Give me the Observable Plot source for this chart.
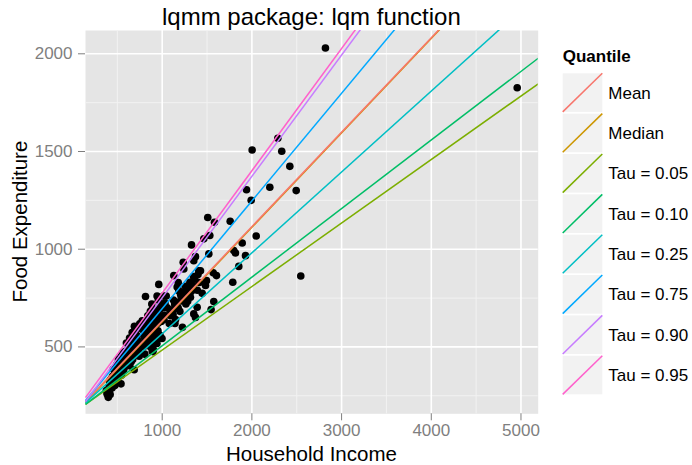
<!DOCTYPE html>
<html><head><meta charset="utf-8">
<script src="https://cdn.jsdelivr.net/npm/d3@7"></script>
<script src="https://cdn.jsdelivr.net/npm/@observablehq/plot@0.6"></script>
<style>body{margin:0;background:#fff;} #chart{width:692px;height:465px;}</style>
</head><body><div id="chart"></div>
<script>
// Household income (x) and food expenditure (y)
const income = [
377,387,387,399,408,411,415,420,420,424,434,441,447,454,461,472,473,485,488,495,498,500,
503,503,507,508,512,524,531,535,540,541,542,544,545,556,559,559,562,563,571,571,576,581,585,587,588,591,596,598,
601,609,615,617,625,627,634,636,639,639,643,651,654,665,671,672,672,679,688,690,690,692,697,697,699,702,
713,713,714,716,718,724,726,726,730,737,743,749,751,759,777,788,791,797,800,800,
806,814,816,821,829,830,831,832,836,839,839,852,855,861,868,873,874,875,880,880,884,884,887,890,890,892,894,896,
901,906,921,922,924,927,934,939,941,943,946,950,953,953,953,956,959,962,969,975,976,978,979,988,989,998,
1006,1014,1018,1020,1025,1031,1045,1057,1079,1088,1095,1116,1121,1125,1129,1139,1142,1149,1149,1162,1167,1178,1179,1185,1197,
1204,1210,1213,1226,1231,1234,1241,1245,1256,1260,1264,1279,1284,1309,1315,1315,1327,1338,1343,1348,1352,1352,1363,1371,1371,1390,1392,1399,1408,1415,1427,1446,
1464,1483,1494,1508,1520,1531,1545,1569,1575,1583,1605,1758,1787,1798,1817,1854,1892,1929,1940,1992,2003,2048,2200,2289,2333,2423,2494,2545,2820,4958
];
const foodexp = [
277,258,265,242,300,268,318,256,330,308,338,290,350,386,335,303,366,360,334,410,318,405,
338,354,318,372,436,401,372,393,418,311,452,415,355,452,378,398,437,470,385,430,395,455,423,420,478,460,444,423,
520,457,412,412,445,498,490,545,403,430,526,498,424,574,436,478,558,527,383,606,520,467,590,545,518,566,
513,497,470,560,600,485,598,532,523,475,452,618,496,595,634,586,520,551,503,560,
463,758,606,624,631,560,593,520,556,659,625,588,528,620,682,498,570,560,654,612,553,720,691,566,478,610,640,476,
486,588,687,680,640,528,519,645,518,760,634,667,621,549,583,740,645,820,690,705,560,654,700,720,630,543,
702,760,701,640,662,724,760,700,620,688,660,690,664,740,865,720,620,640,700,730,806,700,830,788,682,
771,760,735,600,740,933,899,780,810,746,720,806,734,831,780,754,1022,790,813,860,941,669,846,962,651,703,790,870,890,830,890,774,
1053,814,839,1162,976,1070,691,879,732,1138,865,1143,831,993,981,912,1032,967,1304,1250,1508,1068,1317,1568,1501,1424,1300,863,2030,1826
];

// Fitted lines: one intercept and slope per quantile
const quantiles = ["Mean","Median","Tau = 0.05","Tau = 0.10","Tau = 0.25","Tau = 0.75","Tau = 0.90","Tau = 0.95"];
const intercepts = [150, 145, 159, 155, 153.5, 145, 130.5, 150.4];
const slopes = [0.483, 0.4835, 0.325, 0.351, 0.414, 0.551, 0.621, 0.6256];
const colors = ["#F8766D","#CD9600","#7CAE00","#00BE67","#00BFC4","#00A9FF","#C77CFF","#FF61CC"];

const xTicks = [1000,2000,3000,4000,5000];
const yTicks = [500,1000,1500,2000];
const xMinor = [500,1500,2500,3500,4500];
const yMinor = [250,750,1250,1750];
const xDomain = [145, 5192];
const yDomain = [157.7, 2119.3];

const points = income.map((x,i)=>({income:x, food:foodexp[i]}));
const lines = quantiles.map((q,i)=>({q, a:intercepts[i], b:slopes[i], color:colors[i]}));
const drawOrder = [1,0,2,3,4,5,6,7];

const font = "'Liberation Sans', Arial, Helvetica, sans-serif";
const svg = Plot.plot({
  width: 692, height: 465,
  marginLeft: 85, marginRight: 154.3, marginTop: 30, marginBottom: 51.7,
  style: {fontFamily: font, fontSize: "17px", background: "#fff", overflow: "visible"},
  x: {domain: xDomain},
  y: {domain: yDomain},
  marks: [
    Plot.frame({fill: "#E5E5E5", stroke: null}),
    Plot.ruleX(xMinor, {stroke: "#F2F2F2", strokeWidth: 1}),
    Plot.ruleY(yMinor, {stroke: "#F2F2F2", strokeWidth: 1}),
    Plot.ruleX(xTicks, {stroke: "#fff", strokeWidth: 1.6}),
    Plot.ruleY(yTicks, {stroke: "#fff", strokeWidth: 1.6}),
    Plot.dot(points, {x:"income", y:"food", r:3.8, fill:"#000", stroke:null}),
    ...drawOrder.map(i => Plot.link([lines[i]], {
      x1: () => xDomain[0], y1: d => d.a + d.b*xDomain[0],
      x2: () => xDomain[1], y2: d => d.a + d.b*xDomain[1],
      stroke: lines[i].color, strokeWidth: 1.5, clip: true})),
    Plot.axisX(xTicks, {tickSize: 7, tickPadding: 3, color: "#7F7F7F", fontSize: 17, label: null, tickFormat: d3.format("d")}),
    Plot.axisY(yTicks, {tickSize: 7, tickPadding: 6, color: "#7F7F7F", fontSize: 17, label: null, tickFormat: d3.format("d")})
  ]
});
document.getElementById("chart").appendChild(svg);

const s = d3.select(svg);
s.append("text").attr("x", 311.4).attr("y", 24.5).attr("text-anchor","middle")
  .style("font-size","24px").attr("fill","#000").text("lqmm package: lqm function");
s.append("text").attr("x", 311.4).attr("y", 460.5).attr("text-anchor","middle")
  .style("font-size","20.5px").attr("fill","#000").text("Household Income");
s.append("text").attr("transform","translate(27,221.6) rotate(-90)").attr("text-anchor","middle")
  .style("font-size","20.5px").attr("fill","#000").text("Food Expenditure");

const lg = s.append("g").attr("text-anchor","start");
lg.append("text").attr("x",562.7).attr("y",61.7).style("font-weight","bold").style("font-size","17px")
  .attr("fill","#000").text("Quantile");
quantiles.forEach((q,i)=>{
  const y0 = 73.3 + i*40.35;
  lg.append("rect").attr("x",562.7).attr("y",y0).attr("width",39.6).attr("height",38.6).attr("fill","#F2F2F2");
  lg.append("line").attr("x1",562.7).attr("y1",y0+38.6).attr("x2",602.3).attr("y2",y0)
    .attr("stroke",colors[i]).attr("stroke-width",1.5);
  lg.append("text").attr("x",608.3).attr("y",y0+19.3).attr("dy","0.35em").style("font-size","17px")
    .attr("fill","#000").text(q);
});
</script>
</body></html>
